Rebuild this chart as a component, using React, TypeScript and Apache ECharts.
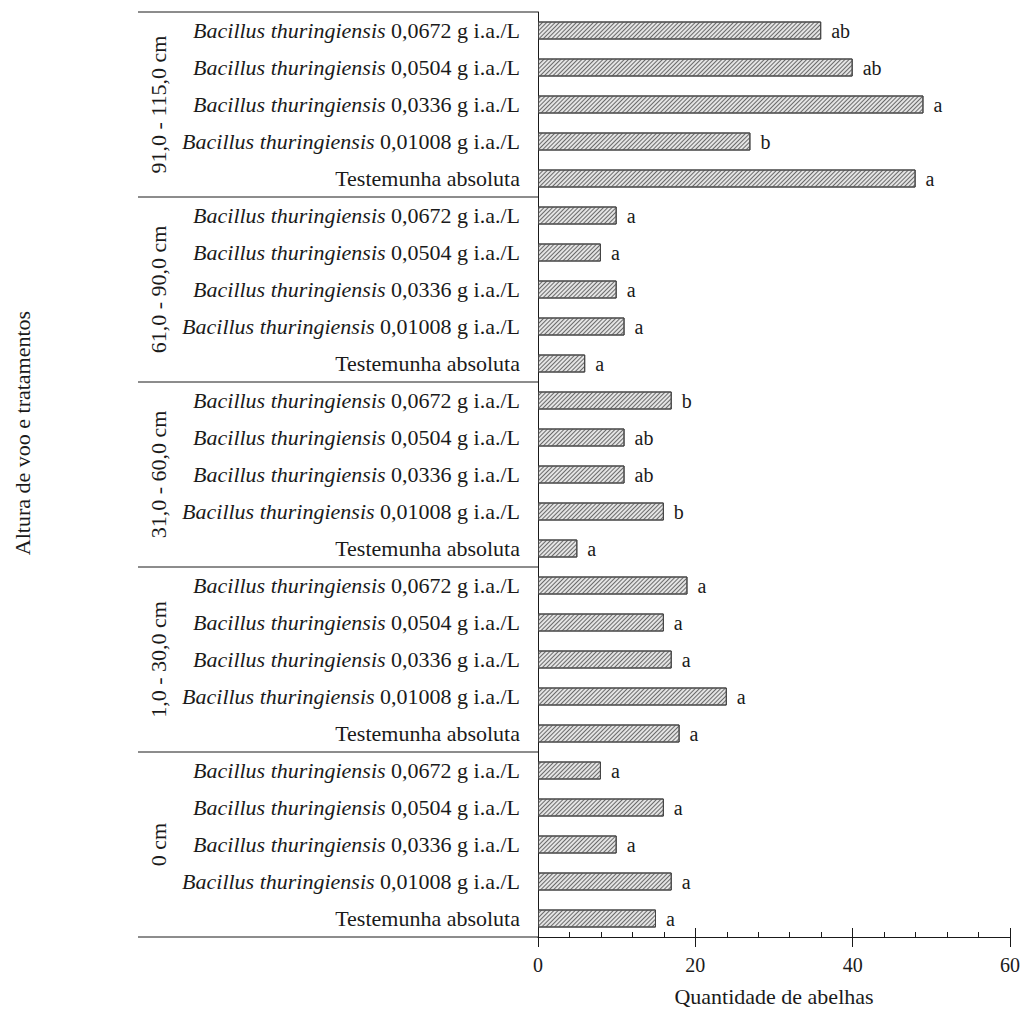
import React, { useEffect, useRef } from "react";
import * as echarts from "echarts";

const groups = ["91,0 - 115,0 cm", "61,0 - 90,0 cm", "31,0 - 60,0 cm", "1,0 - 30,0 cm", "0 cm"];
const treatments = [
  "Bacillus thuringiensis 0,0672 g i.a./L",
  "Bacillus thuringiensis 0,0504 g i.a./L",
  "Bacillus thuringiensis 0,0336 g i.a./L",
  "Bacillus thuringiensis 0,01008 g i.a./L",
  "Testemunha absoluta",
];
const values = [
  36, 40, 49, 27, 48,
  10, 8, 10, 11, 6,
  17, 11, 11, 16, 5,
  19, 16, 17, 24, 18,
  8, 16, 10, 17, 15,
];
const letters = [
  "ab", "ab", "a", "b", "a",
  "a", "a", "a", "a", "a",
  "b", "ab", "ab", "b", "a",
  "a", "a", "a", "a", "a",
  "a", "a", "a", "a", "a",
];
const xMin = 0;
const xMax = 60;
const xInterval = 20;
const xTitle = "Quantidade de abelhas";
const yTitle = "Altura de voo e tratamentos";
const italicPart = "Bacillus thuringiensis";

const FONT = "Liberation Serif";
const INK = "#1a1a1a";

export default function App() {
  const ref = useRef<HTMLDivElement>(null);
  useEffect(() => {
    const chart = echarts.init(ref.current!, null, { renderer: "svg" });
    const cats: string[] = [];
    groups.forEach((g) => treatments.forEach((t) => cats.push(g + "|" + t)));

    const option: any = {
      animation: false,
      textStyle: { fontFamily: FONT },
      grid: { left: 538, right: 14, top: 12, bottom: 74, containLabel: false },
      xAxis: [
        {
          type: "value",
          min: xMin,
          max: xMax,
          interval: xInterval,
          position: "bottom",
          axisLine: { show: true, lineStyle: { color: INK, width: 1 } },
          axisTick: { show: true, length: 10, lineStyle: { color: INK } },
          axisLabel: { fontFamily: FONT, fontSize: 20, color: INK, margin: 18 },
          splitLine: { show: false },
          name: xTitle,
          nameLocation: "middle",
          nameGap: 48,
          nameTextStyle: { fontFamily: FONT, fontSize: 22, color: INK },
        },
        {
          type: "value",
          min: xMin,
          max: xMax,
          interval: xInterval,
          position: "bottom",
          axisLine: { show: false },
          axisTick: { show: true, inside: true, length: 9, lineStyle: { color: INK } },
          minorTick: { show: true, splitNumber: 5, length: 5, lineStyle: { color: INK } },
          axisLabel: { show: false },
          splitLine: { show: false },
        },
      ],
      yAxis: {
        type: "category",
        data: cats,
        inverse: true,
        axisLine: { show: true, lineStyle: { color: INK, width: 1 } },
        axisTick: { show: false },
        axisLabel: {
          margin: 18,
          fontFamily: FONT,
          fontSize: 22,
          color: INK,
          formatter: (v: string) => {
            const t = v.split("|")[1];
            if (t.startsWith(italicPart)) {
              return "{i|" + italicPart + "}{n| " + t.slice(italicPart.length + 1) + "}";
            }
            return "{n|" + t + "}";
          },
          rich: {
            i: { fontFamily: FONT, fontSize: 22, fontStyle: "italic", color: INK },
            n: { fontFamily: FONT, fontSize: 22, color: INK },
          },
        },
      },
      series: [
        {
          type: "bar",
          xAxisIndex: 0,
          data: values,
          barWidth: 18,
          itemStyle: {
            color: "#e4e4e4",
            borderColor: "#444",
            borderWidth: 1,
            decal: {
              symbol: "rect",
              symbolSize: 1,
              dashArrayX: [1, 0],
              dashArrayY: [1, 1.2],
              rotation: -Math.PI / 4,
              color: "#6a6a6a",
            },
          },
          label: {
            show: true,
            position: "right",
            distance: 10,
            formatter: (p: any) => letters[p.dataIndex],
            fontFamily: FONT,
            fontSize: 20,
            color: INK,
          },
        },
      ],
    };
    chart.setOption(option);

    const c0 = chart.convertToPixel({ yAxisIndex: 0 }, cats[0]) as number;
    const c1 = chart.convertToPixel({ yAxisIndex: 0 }, cats[1]) as number;
    const step = c1 - c0;
    const top = c0 - step / 2;
    const axisX = chart.convertToPixel({ xAxisIndex: 0 }, xMin) as number;
    const leftX = 138;
    const elements: any[] = [];
    for (let g = 0; g <= groups.length; g++) {
      const y = top + g * treatments.length * step;
      elements.push({
        type: "line",
        shape: { x1: leftX, y1: y, x2: axisX, y2: y },
        style: { stroke: INK, lineWidth: 1 },
      });
    }
    groups.forEach((g, i) => {
      const y = top + (i * treatments.length + treatments.length / 2) * step;
      elements.push({
        type: "text",
        x: 158,
        y,
        rotation: Math.PI / 2,
        style: {
          text: g,
          font: "22px Liberation Serif",
          fill: INK,
          textAlign: "center",
          textVerticalAlign: "middle",
        },
      });
    });
    elements.push({
      type: "text",
      x: 22,
      y: 433,
      rotation: Math.PI / 2,
      style: {
        text: yTitle,
        font: "22px Liberation Serif",
        fill: INK,
        textAlign: "center",
        textVerticalAlign: "middle",
      },
    });
    chart.setOption({ graphic: { elements } });

    return () => chart.dispose();
  }, []);
  return (
    <div
      ref={ref}
      style={{ position: "absolute", left: 0, top: 0, width: 1024, height: 1012 }}
    />
  );
}
